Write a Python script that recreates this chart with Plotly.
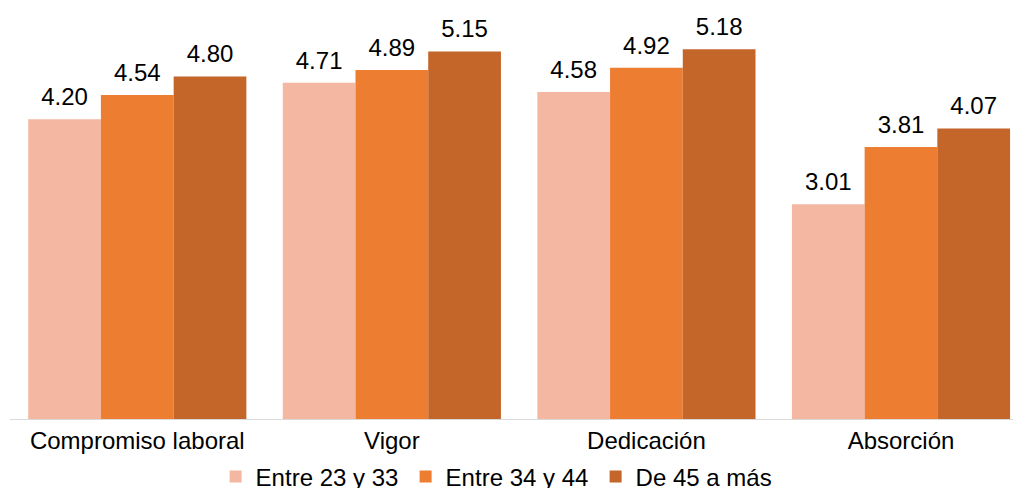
import plotly.graph_objects as go

categories = ["Compromiso laboral", "Vigor", "Dedicación", "Absorción"]
series_names = ["Entre 23 y 33", "Entre 34 y 44", "De 45 a más"]
vals_23_33 = [4.20, 4.71, 4.58, 3.01]
vals_34_44 = [4.54, 4.89, 4.92, 3.81]
vals_45 = [4.80, 5.15, 5.18, 4.07]
colors = ["#F4B7A2", "#ED7D31", "#C4652A"]

FONT = "Liberation Sans, Arial, sans-serif"
LABEL_GAP = 0.085  # small extra spacing (data units) between bar top and its label

fig = go.Figure()
for i, (name, vals, col) in enumerate(zip(series_names, [vals_23_33, vals_34_44, vals_45], colors)):
    fig.add_trace(go.Bar(
        x=categories, y=vals, name=name, offsetgroup=str(i),
        marker=dict(color=col, line=dict(width=0)),
    ))
    fig.add_trace(go.Bar(
        x=categories, y=[LABEL_GAP] * len(vals), base=vals, offsetgroup=str(i),
        marker=dict(color="rgba(0,0,0,0)", line=dict(width=0)),
        text=[f"{v:.2f}" for v in vals],
        textposition="outside",
        textfont=dict(size=24, color="#000000", family=FONT),
        cliponaxis=False, showlegend=False, hoverinfo="skip",
    ))

fig.update_layout(
    width=1013, height=488,
    margin=dict(l=10, r=0, t=0, b=69, autoexpand=False),
    paper_bgcolor="white", plot_bgcolor="white",
    barmode="group", bargap=0.143, bargroupgap=0,
    font=dict(family=FONT, size=24, color="#000000"),
    showlegend=True,
    legend=dict(orientation="h", x=0.205, xanchor="left", y=-0.138, yanchor="middle",
                font=dict(size=24, color="#000000", family=FONT),
                itemwidth=30, entrywidth=145, tracegroupgap=0, bgcolor="rgba(0,0,0,0)"),
)
fig.update_xaxes(range=[-0.5, 3.44], showline=True, linecolor="#D9D9D9", linewidth=1,
                 ticks="", showgrid=False, zeroline=False,
                 tickfont=dict(size=24, color="#000000", family=FONT))
fig.update_yaxes(range=[0, 5.87], visible=False, showgrid=False, zeroline=False)

fig.write_html("out.html")
